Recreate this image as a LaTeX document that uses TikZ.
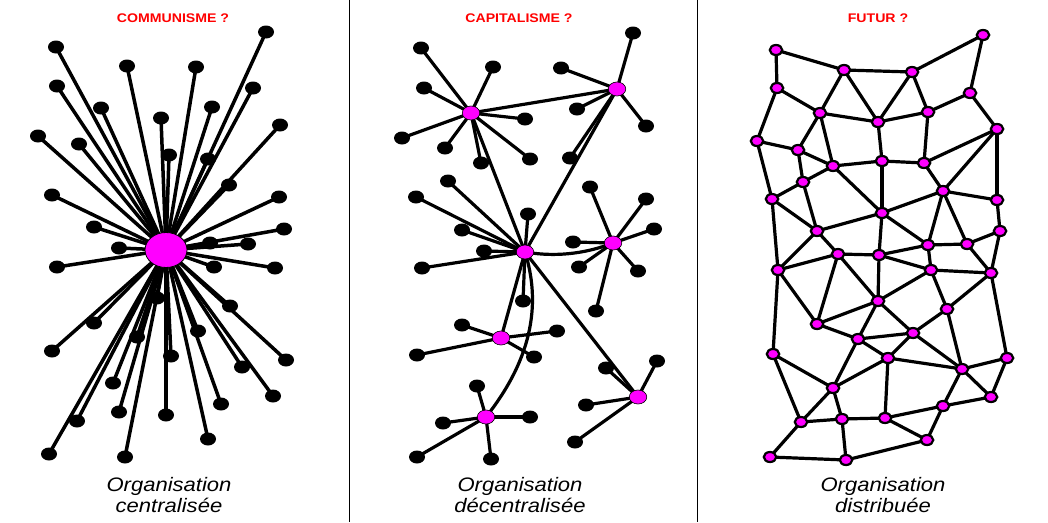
\documentclass[tikz,border=0pt]{standalone}
\usepackage{fontspec}
\setmainfont{Liberation Sans}
\usetikzlibrary{shapes.geometric,backgrounds}
\definecolor{mag}{RGB}{255,0,255}
\begin{document}
\begin{tikzpicture}[x=1pt,y=-1pt,
  leaf/.style={ellipse,fill=black,minimum width=16pt,minimum height=13pt,inner sep=0pt},
  bighub/.style={ellipse,fill=mag,draw=black,line width=0.8pt,minimum width=42pt,minimum height=35pt,inner sep=0pt},
  hub/.style={ellipse,fill=mag,draw=black,line width=0.6pt,minimum width=17.5pt,minimum height=14pt,inner sep=0pt},
  mnode/.style={ellipse,fill=mag,draw=black,line width=2.2pt,minimum width=12.5pt,minimum height=10pt,inner sep=0pt},
  spoke/.style={line width=3.5pt},
  link/.style={line width=3.2pt},
  mesh/.style={line width=3.2pt,line join=round},
  title/.style={text=red,font=\fontsize{12.5}{14}\selectfont\bfseries,anchor=base,inner sep=0pt},
  caption/.style={font=\fontsize{19.5}{22}\selectfont\itshape,anchor=base,inner sep=0pt},
  sep/.style={line width=1.5pt}
]
\useasboundingbox (0,0) rectangle (1048,522);
\begin{pgfonlayer}{background}
\fill[white] (0,0) rectangle (1048,522);
\end{pgfonlayer}

% separators
\coordinate (s1t) at (349.3,0); \coordinate (s1b) at (349.3,522);
\coordinate (s2t) at (697.3,0); \coordinate (s2b) at (697.3,522);
\draw[sep] (s1t) -- (s1b);
\draw[sep] (s2t) -- (s2b);

% titles
\node[title] (ti1) at (173,22) {\scalebox{1.13}[1]{COMMUNISME ?}};
\node[title] (ti2) at (519,22) {\scalebox{1.13}[1]{CAPITALISME ?}};
\node[title] (ti3) at (878,22) {\scalebox{1.13}[1]{FUTUR ?}};

% captions
\node[caption] (ca1) at (169,491) {\scalebox{1.13}[1]{Organisation}};
\node[caption] (cb1) at (169,512) {\scalebox{1.13}[1]{centralisée}};
\node[caption] (ca2) at (520,491) {\scalebox{1.13}[1]{Organisation}};
\node[caption] (cb2) at (520,512) {\scalebox{1.13}[1]{décentralisée}};
\node[caption] (ca3) at (883,491) {\scalebox{1.13}[1]{Organisation}};
\node[caption] (cb3) at (883,512) {\scalebox{1.13}[1]{distribuée}};

% ---------- panel 1 ----------
\def\leavesA{56/47,266/32,127/66,196/67,57/86,253/88,101/108,212/107,161/118,280/125,
38/136,79/144,169/155,208/159,229/185,52/195,279/197,94/227,284/229,210/243,248/244,
119/248,57/267,214/267,275/268,230/306,94/323,198/331,52/351,137/337,286/360,171/356,
242/367,113/383,273/396,119/412,221/404,166/415,77/421,208/439,49/454,125/457,157/298}
\foreach \px/\py [count=\i] in \leavesA {\node[leaf] (c\i) at (\px,\py) {};}
\node[bighub] (H) at (166,250) {};
\begin{pgfonlayer}{background}
\foreach \px/\py [count=\i] in \leavesA {\draw[spoke] (H.center) -- (c\i.center);}
\end{pgfonlayer}

% ---------- panel 2 ----------
\node[hub] (A) at (471,113) {};
\node[hub] (B) at (617,89) {};
\node[hub] (C) at (525,252) {};
\node[hub] (D) at (613,243) {};
\node[hub] (E) at (501,338) {};
\node[hub] (F) at (486,417) {};
\node[hub] (G) at (638,397) {};
\def\leavesB{A/421/48,A/493/67,A/424/88,A/525/119,A/402/138,A/445/148,A/530/159,A/481/163,
B/633/33,B/561/68,B/577/109,B/646/126,B/570/158,
C/448/181,C/416/197,C/528/214,C/462/230,C/484/251,C/422/268,C/523/301,
D/590/187,D/646/199,D/654/229,D/573/242,D/579/267,D/638/271,D/596/311,
E/462/325,E/557/331,E/417/355,E/534/357,
F/477/386,F/530/417,F/443/423,F/417/457,F/491/459,
G/657/361,G/606/368,G/586/405,G/575/442}
\foreach \h/\px/\py [count=\i] in \leavesB {\node[leaf] (d\i) at (\px,\py) {};}
\begin{pgfonlayer}{background}
\foreach \h/\px/\py [count=\i] in \leavesB {\draw[link] (\h.center) -- (d\i.center);}
\draw[link] (A.center) -- (B.center);
\draw[link] (A.center) -- (C.center);
\draw[link] (B.center) -- (C.center);
\draw[link] (C.center) .. controls (560,258) and (590,252) .. (D.center);
\draw[link] (C.center) -- (E.center);
\draw[link] (C.center) -- (G.center);
\draw[link] (C.center) .. controls (540,300) and (535,355) .. (F.center);
\end{pgfonlayer}

% ---------- panel 3 ----------
\foreach \n/\px/\py in {n1/776/50,n2/844/70,n3/777/88,n4/820/113,n5/878/122,n6/757/141,
n7/798/150,n8/833/166,n9/882/161,n10/803/182,n11/772/199,n12/882/213,n13/817/231,
m1/983/35,m2/912/72,m3/970/93,m4/928/112,m5/997/129,m6/924/163,m7/943/191,m8/997/200,
m9/1000/231,m10/928/245,m11/967/244,
p1/838/254,p2/879/255,p3/778/270,p4/878/301,p5/817/324,p6/858/339,p7/773/354,p8/888/358,
p9/833/388,p10/801/422,p11/842/419,p12/885/418,p13/770/457,p14/846/460,
q1/931/270,q2/991/273,q3/947/309,q4/913/333,q5/1007/358,q6/962/369,q7/991/397,q8/943/406,q9/927/440}
{\node[mnode] (\n) at (\px,\py) {};}
\begin{pgfonlayer}{background}
\foreach \a/\b in {n1/n2,n1/n3,n3/n4,n3/n6,n2/n4,n2/n5,n2/m2,n4/n5,n4/n7,n4/n8,n6/n7,n6/n11,
n7/n8,n7/n10,n8/n9,n8/n10,n8/n12,n10/n11,n10/n13,n11/n13,n13/n12,n5/n9,n9/n12,
m2/m1,m1/m3,m2/n5,m2/m4,m4/m3,m4/n5,m4/m6,m3/m5,m5/m6,m5/m7,m5/m8,n9/m6,m6/m7,m7/n12,
m7/m8,m7/m10,m7/m11,m8/m9,n12/m10,m10/m11,m11/m9,
n11/p3,n13/p3,n13/p1,p3/p1,p1/p2,p1/p5,p1/p4,p2/p4,n12/p2,p3/p5,p3/p7,p5/p4,p5/p6,p6/p4,
p6/q4,p6/p8,p6/p9,p7/p9,p7/p10,p9/p8,p9/p10,p9/p11,p10/p11,p10/p13,p11/p12,p11/p14,
p13/p14,p14/q9,
p2/m10,m10/q1,m11/q2,m9/q2,p2/q1,q1/q2,p4/q1,q1/q3,q2/q3,q2/q5,p4/q4,q3/q4,q3/q6,q4/p8,
q4/q6,p8/q6,p8/p12,q6/q5,q6/q7,q6/q8,q5/q7,q8/q7,p12/q8,p12/q9,q9/q8}
{\draw[mesh] (\a.center) -- (\b.center);}
\end{pgfonlayer}
\end{tikzpicture}
\end{document}
